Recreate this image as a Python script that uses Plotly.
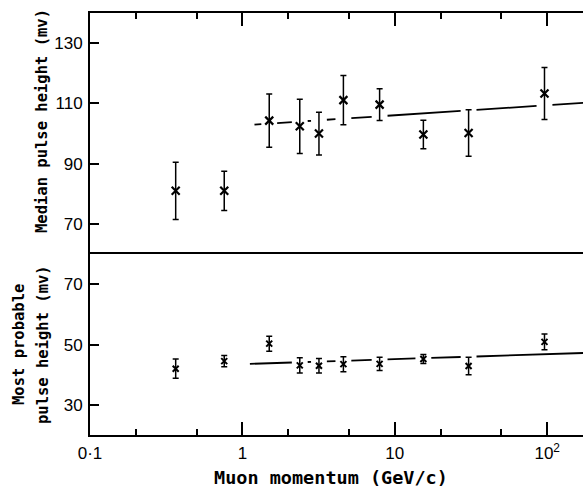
import math
import plotly.graph_objects as go
from plotly.subplots import make_subplots

# ---- data ----
momentum = [0.365, 0.76, 1.50, 2.38, 3.18, 4.60, 7.95, 15.4, 30.5, 96.0]   # GeV/c

median_ph = [81.0, 81.0, 104.3, 102.4, 100.0, 111.1, 109.6, 99.7, 100.2, 113.3]  # mV
median_err = [9.5, 6.5, 8.8, 9.0, 7.1, 8.2, 5.3, 4.7, 7.7, 8.6]

mostprob_ph = [42.0, 44.5, 50.3, 43.1, 43.0, 43.5, 43.6, 45.2, 42.9, 50.9]  # mV
mostprob_err = [3.2, 1.9, 2.5, 2.5, 2.4, 2.5, 2.2, 1.5, 2.9, 2.6]

# fitted lines (end points)
median_fit_x = [1.2, 172.0]
median_fit_y = [103.0, 110.2]
mostprob_fit_x = [1.12, 172.0]
mostprob_fit_y = [43.6, 47.2]

x_tickvals = [0.1, 1, 10, 100]
x_ticktext = ["0·1", "1", "10", "10<sup>2</sup>"]
x_minor = [0.2, 0.5, 2, 5, 20, 50]
top_yticks = [70, 90, 110, 130]
bot_yticks = [30, 50, 70]


def fit_segments(fx, fy, px, py, err, margin=1.0, half=0.052):
    l0, l1 = math.log10(fx[0]), math.log10(fx[1])
    slope = (fy[1] - fy[0]) / (l1 - l0)
    f = lambda l: fy[0] + slope * (l - l0)
    cuts = sorted(math.log10(p) for p, v, e in zip(px, py, err)
                  if l0 < math.log10(p) < l1 and abs(f(math.log10(p)) - v) <= e + margin)
    xs, ys = [], []
    start = l0
    for c in cuts:
        a = c - half
        if a > start:
            xs += [10 ** start, 10 ** a, None]
            ys += [f(start), f(a), None]
        start = c + half
    xs += [10 ** start, 10 ** l1]
    ys += [f(start), f(l1)]
    return xs, ys


top_frac = 80 / 140
fig = make_subplots(rows=2, cols=1, shared_xaxes=False, vertical_spacing=0,
                    row_heights=[top_frac, 1 - top_frac])

fx, fy = fit_segments(median_fit_x, median_fit_y, momentum, median_ph, median_err)
fig.add_trace(go.Scatter(x=fx, y=fy, mode="lines", line=dict(color="black", width=1.8),
                         hoverinfo="skip", showlegend=False), row=1, col=1)
fig.add_trace(go.Scatter(
    x=momentum, y=median_ph, mode="markers",
    marker=dict(symbol="x-thin", size=8, line=dict(color="black", width=2.2)),
    error_y=dict(type="data", array=median_err, color="black", thickness=1.5, width=3),
    showlegend=False), row=1, col=1)

fx, fy = fit_segments(mostprob_fit_x, mostprob_fit_y, momentum, mostprob_ph, mostprob_err)
fig.add_trace(go.Scatter(x=fx, y=fy, mode="lines", line=dict(color="black", width=1.8),
                         hoverinfo="skip", showlegend=False), row=2, col=1)
fig.add_trace(go.Scatter(
    x=momentum, y=mostprob_ph, mode="markers",
    marker=dict(symbol="x-thin", size=6, line=dict(color="black", width=2)),
    error_y=dict(type="data", array=mostprob_err, color="black", thickness=1.5, width=3),
    showlegend=False), row=2, col=1)

xrange = [-1.0, 2.235]
tickfont = dict(family="Liberation Sans", size=17, color="black")

# top panel x axis: drawn at the top border, ticks only
fig.update_xaxes(type="log", range=xrange, side="top", showline=True, linecolor="black",
                 linewidth=2, ticks="inside", ticklen=13, tickwidth=1.5, tickcolor="black",
                 tickvals=x_tickvals, showticklabels=False, showgrid=False, zeroline=False,
                 minor=dict(tickvals=x_minor, ticks="inside", ticklen=6, tickwidth=1.5,
                            tickcolor="black", showgrid=False),
                 row=1, col=1)
# bottom panel x axis: labelled, its mirror line is the divider
fig.update_xaxes(type="log", range=xrange, showline=True, mirror=True, linecolor="black",
                 linewidth=2, ticks="inside", ticklen=13, tickwidth=1.5, tickcolor="black",
                 tickvals=x_tickvals, ticktext=x_ticktext, tickfont=tickfont,
                 ticklabelstandoff=2, showgrid=False, zeroline=False,
                 minor=dict(tickvals=x_minor, ticks="inside", ticklen=6, tickwidth=1.5,
                            tickcolor="black", showgrid=False),
                 row=2, col=1)

fig.update_yaxes(range=[60, 140], tickvals=top_yticks, row=1, col=1)
fig.update_yaxes(range=[20, 80], tickvals=bot_yticks, row=2, col=1)
fig.update_yaxes(showline=True, linecolor="black", linewidth=2, ticks="inside", ticklen=9,
                 tickwidth=1.5, tickcolor="black", tickfont=tickfont, showgrid=False,
                 zeroline=False, ticklabelstandoff=2)

titlefont = dict(family="DejaVu Sans Mono", size=15.5, color="black")
fig.add_annotation(text="<b>Median pulse height (mv)</b>", textangle=-90, xref="paper", yref="paper",
                   x=0, y=(435 - 121) / 422, xanchor="center", yanchor="middle", xshift=-48,
                   showarrow=False, font=titlefont)
fig.add_annotation(text="<b>Most probable</b>", textangle=-90, xref="paper", yref="paper",
                   x=0, y=(435 - 345) / 422, xanchor="center", yanchor="middle", xshift=-71,
                   showarrow=False, font=titlefont)
fig.add_annotation(text="<b>pulse height (mv)</b>", textangle=-90, xref="paper", yref="paper",
                   x=0, y=(435 - 345) / 422, xanchor="center", yanchor="middle", xshift=-47,
                   showarrow=False, font=titlefont)
fig.add_annotation(text="<b>Muon momentum (GeV/c)</b>", xref="paper", yref="paper",
                   x=(331 - 90) / 493, y=(435 - 478) / 422, xanchor="center", yanchor="middle",
                   showarrow=False, font=dict(family="DejaVu Sans Mono", size=18.5, color="black"))

fig.update_layout(width=585, height=494, margin=dict(l=90, r=2, t=13, b=59),
                  paper_bgcolor="white", plot_bgcolor="white", showlegend=False)

fig.write_html("out.html", config={"displayModeBar": False},
               post_script="document.body.style.margin='0';document.body.style.overflow='hidden';")
